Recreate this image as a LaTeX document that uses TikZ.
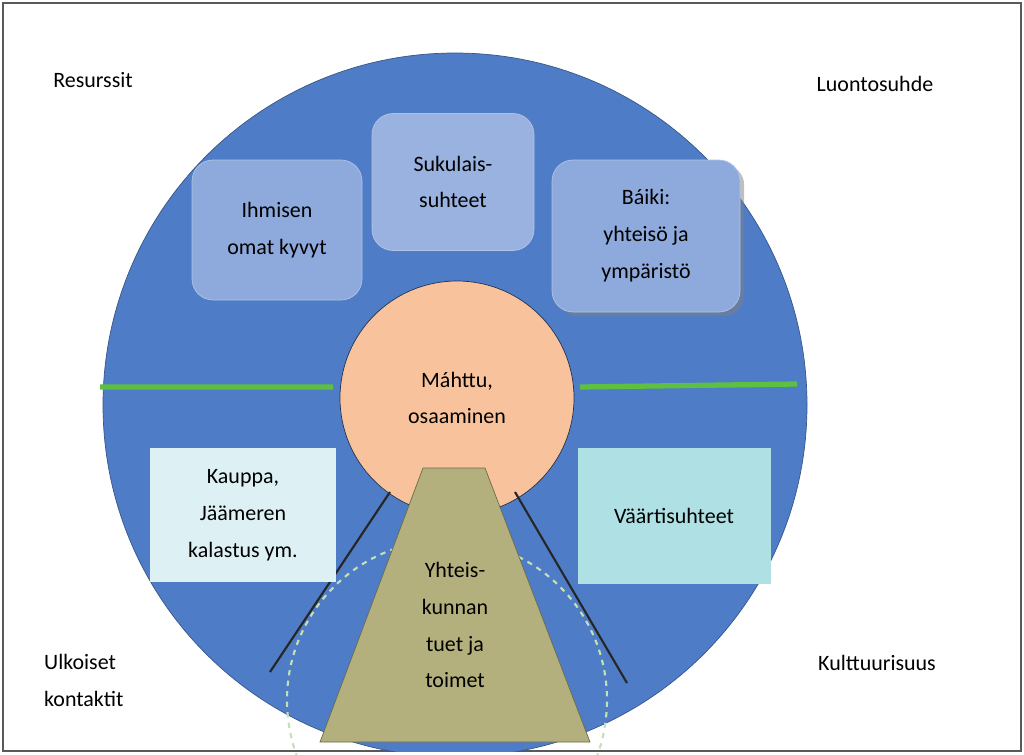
\documentclass[tikz,border=0pt]{standalone}
\usepackage{fontspec}
\setmainfont{Carlito}
\usetikzlibrary{shadows,arrows.meta}
\colorlet{outercol}{blue!55!cyan!60!black!80!white}
\definecolor{outercol}{HTML}{4F7CC6}
\definecolor{innercol}{HTML}{F8C39C}
\definecolor{boxcol}{HTML}{8EA9DB}
\definecolor{paleboxcol}{HTML}{DDF1F5}
\definecolor{tealboxcol}{HTML}{AEE0E4}
\definecolor{trapcol}{HTML}{B3B07D}
\definecolor{greenlinecol}{HTML}{5DC040}
\definecolor{dashcol}{HTML}{C5E0B4}
\tikzset{
	lbl/.style={font=\fontsize{12.5}{21}\selectfont, align=center},
	bluebox/.style={rounded corners=12pt, fill=boxcol, draw=boxcol!70!white, lbl},
	flatbox/.style={lbl},
}
\begin{document}
\begin{tikzpicture}[x=0.02cm, y=-0.02cm]
		\useasboundingbox (0, 0) rectangle (1024, 754);
		\draw[gray!70!black, line width=0.6pt] (3, 3) rectangle (1021, 751);
		\coordinate (centre) at (455, 405);
		\coordinate (lineleftA) at (390, 492);
		\coordinate (lineleftB) at (270, 672);
		\coordinate (linerightA) at (515, 492);
		\coordinate (linerightB) at (627, 683);
		\coordinate (greenA) at (100, 387);
		\coordinate (greenB) at (333, 387);
		\coordinate (greenC) at (580, 387);
		\coordinate (greenD) at (797, 384);
		\coordinate (arccentre) at (447, 380);
		\begin{scope}
			\clip (3, 3) rectangle (1021, 751);
			\fill[outercol, draw=outercol!70!black] (centre) circle (352);
		\end{scope}
		\draw[greenlinecol, line width=3pt] (greenA) -- (greenB) (greenC) -- (greenD);
		% inner circle and dashed arcs
		\node[circle, minimum size=234*0.02cm, fill=innercol, draw=outercol!40!black, lbl] (mahttu) at (457, 398) {Máhttu,\\osaaminen};
		\draw[dashcol, dashed, line width=1.2pt, -{Stealth[length=7pt]}] ([shift={(90:160)}]arccentre) arc[start angle=-90, end angle=-230, radius=160];
		\draw[dashcol, dashed, line width=1.2pt, -{Stealth[length=7pt]}] ([shift={(90:160)}]arccentre) arc[start angle=-90, end angle=53, radius=160];
		\draw[black!85, line width=1.2pt] (lineleftA) -- (lineleftB) (linerightA) -- (linerightB);
		\fill[trapcol, draw=trapcol!60!black] (423, 468) -- (485, 468) -- (590, 742) -- (320, 742) -- cycle;
		\node[lbl] (tuet) at (455, 625) {Yhteis-\\kunnan\\tuet ja\\toimet};
		% boxes
		\node[bluebox, minimum width=170*0.02cm, minimum height=140*0.02cm] (kyvyt) at (277, 230) {Ihmisen\\omat kyvyt};
		\node[bluebox, minimum width=162*0.02cm, minimum height=137*0.02cm, fill=boxcol!90!white] (sukulais) at (453, 182) {Sukulais-\\suhteet};
		\node[bluebox, minimum width=188*0.02cm, minimum height=152*0.02cm, drop shadow] (baiki) at (646, 236) {Báiki:\\yhteisö ja\\ympäristö};
		\node[flatbox, fill=paleboxcol, minimum width=186*0.02cm, minimum height=134*0.02cm] (kauppa) at (243, 515) {Kauppa,\\Jäämeren\\kalastus ym.};
		\node[flatbox, fill=tealboxcol, minimum width=193*0.02cm, minimum height=136*0.02cm] (vaarti) at (674, 516) {Väärtisuhteet};
		% corner labels
		\node[lbl] (resurssit) at (93, 80) {Resurssit};
		\node[lbl] (luonto) at (875, 84) {Luontosuhde};
		\node[lbl, align=left, anchor=west] (ulkoiset) at (38, 680) {Ulkoiset\\kontaktit};
		\node[lbl] (kulttuuri) at (877, 663) {Kulttuurisuus};
	\end{tikzpicture}
\end{document}
